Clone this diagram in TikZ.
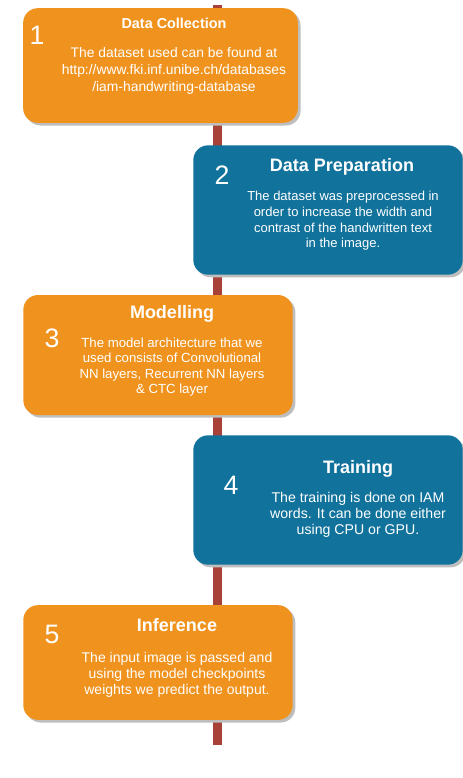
\documentclass[tikz,border=0pt]{standalone}
\usepackage{fontspec}
\setmainfont{Liberation Sans}
\usetikzlibrary{shadows, backgrounds}
\definecolor{steporange}{RGB}{240, 147, 30}
\definecolor{stepblue}{RGB}{17, 114, 155}
\definecolor{spinecolor}{RGB}{168, 65, 56}
\definecolor{shadowgray}{RGB}{190, 190, 190}
\tikzset{
  stepbox/.style={
    rectangle, rounded corners=11pt, inner sep=0pt,
    drop shadow={shadow xshift=2pt, shadow yshift=-2pt,
                 fill=shadowgray, opacity=1}
  },
  orangebox/.style={stepbox, fill=steporange},
  bluebox/.style={stepbox, fill=stepblue},
  stepnum/.style={text=white, font=\fontsize{20}{22}\selectfont},
  steptitle/.style={text=white, font=\fontsize{13.5}{15}\selectfont\bfseries,
    text depth=0pt},
  stepbody/.style={text=white, align=center, inner sep=0pt},
  spine/.style={line width=7pt, color=spinecolor}
}

\begin{document}
\begin{tikzpicture}[x=0.75pt, y=-0.75pt]

  \useasboundingbox (0,0) rectangle (463,778);

  % ── Spine ──────────────────────────────────────────────────────
  \coordinate (spinetop) at (217.5,5);
  \coordinate (spinebottom) at (217.5,745);

  % ── Step 1 ─────────────────────────────────────────────────────
  \node[orangebox, minimum width=206pt, minimum height=86pt] (box1) at (160.5,65.5) {};
  \node[stepnum] (num1) at (37,35) {1};
  \node[steptitle, font=\fontsize{10.8}{12}\selectfont\bfseries] (title1) at (174,23) {Data Collection};
  \node[stepbody, font=\fontsize{10.4}{12.5}\selectfont] (body1) at (174,71)
    {The dataset used can be found at\\http://www.fki.inf.unibe.ch/databases\\/iam-handwriting-database};

  % ── Step 2 ─────────────────────────────────────────────────────
  \node[bluebox, minimum width=202pt, minimum height=97pt] (box2) at (328,210) {};
  \node[stepnum] (num2) at (222,175) {2};
  \node[steptitle] (title2) at (342,165) {Data Preparation};
  \node[stepbody, font=\fontsize{9.75}{11.8}\selectfont] (body2) at (343,221)
    {The dataset was preprocessed in\\order to increase the width and\\contrast of the handwritten text\\in the image.};

  % ── Step 3 ─────────────────────────────────────────────────────
  \node[orangebox, minimum width=202pt, minimum height=90pt] (box3) at (158,355) {};
  \node[stepnum] (num3) at (52,338) {3};
  \node[steptitle] (title3) at (172,312) {Modelling};
  \node[stepbody, font=\fontsize{9.9}{11.6}\selectfont] (body3) at (172,367)
    {The model architecture that we\\used consists of Convolutional\\NN layers, Recurrent NN layers\\\& CTC layer};

  % ── Step 4 ─────────────────────────────────────────────────────
  \node[bluebox, minimum width=202pt, minimum height=97pt] (box4) at (328,500) {};
  \node[stepnum] (num4) at (231,485) {4};
  \node[steptitle] (title4) at (358,467) {Training};
  \node[stepbody, font=\fontsize{10.6}{12}\selectfont] (body4) at (358,515)
    {The training is done on IAM\\words. It can be done either\\using CPU or GPU.};

  % ── Step 5 ─────────────────────────────────────────────────────
  \node[orangebox, minimum width=202pt, minimum height=86pt] (box5) at (158,662.5) {};
  \node[stepnum] (num5) at (52,634) {5};
  \node[steptitle] (title5) at (177,625) {Inference};
  \node[stepbody, font=\fontsize{10.5}{12}\selectfont] (body5) at (177,675)
    {The input image is passed and\\using the model checkpoints\\weights we predict the output.};

  % ── Spine behind the boxes ─────────────────────────────────────
  \begin{scope}[on background layer]
    \draw[spine] (spinetop) -- (spinebottom);
  \end{scope}

\end{tikzpicture}
\end{document}
